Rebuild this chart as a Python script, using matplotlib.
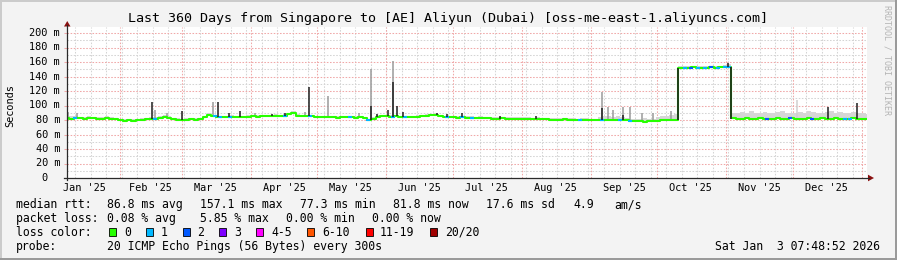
import matplotlib
matplotlib.use("Agg")
import matplotlib.pyplot as plt
import matplotlib.transforms as mtransforms
import numpy as np
import pandas as pd
from matplotlib.lines import Line2D
from matplotlib.patches import Rectangle, Polygon

# ------------------------------------------------------------------ data
end_time = pd.Timestamp("2026-01-03 07:48:52")
start_time = end_time - pd.Timedelta(days=360)
sample_days = list(range(0, 361, 2))          # days since start, 2-day samples

median_ms = [
    82.5, 82, 83, 82.5, 82, 83, 82.5, 82, 81.5, 82.5, 82, 81,
    79.5, 79, 79.5, 79, 80,
    80.5, 81, 81.5, 82,
    83, 84.5, 83,
    81, 80.5, 80, 80.5, 81, 80.5, 81,
    84, 87, 85,
    84, 83.5, 84, 84.5, 84, 83.5, 84, 84.5, 85, 84.5,
    85, 85.5, 85, 86, 85.5, 86, 88,
    90, 86, 85.5, 85, 85.5,
    84, 83.5, 83.5, 84, 83.5, 83, 83.5, 84, 83.5, 83, 83.5, 82.5,
    80, 82, 84.5,
    85, 85, 84.5, 85, 84,
    83.5, 84, 84, 84.5, 85, 86, 86.5, 87, 85, 84, 83.5,
    83.5, 83, 84, 83, 83, 82.5, 83, 82.5, 82.5,
    82, 82, 82.5, 82, 82, 81.5, 82, 81.5, 81.5, 81, 81.5, 81, 81,
    80.5, 80.5, 80.5, 81, 80.5, 80.5, 80, 80.5, 80.5, 80, 80,
    80, 79.5, 80, 79.5, 80, 79.5, 80, 79,
    78, 78, 77.5, 78, 78.5, 79, 79.5, 79.5, 80, 80.5,
    152, 151.5, 152, 152.5, 152, 151.5, 152, 152.5, 152, 152.5, 153, 153,
    82.5, 82, 82, 82.5, 82, 82, 82.5, 82, 82, 82, 82.5, 82, 82, 82.5, 82, 82,
    82, 82.5, 82, 82, 82.5, 82, 82, 82.5, 82, 82, 82, 82.5, 82, 82, 82,
]

smoke_top_ms = [
    84, 85, 85, 84, 84, 85, 84, 84, 83.5, 85, 84, 83,
    81, 81, 81, 81, 82,
    82.5, 83, 83.5, 84,
    86, 87, 85,
    83, 82.5, 82, 82.5, 83, 82.5, 83,
    86, 89, 87,
    86, 85.5, 86, 86.5, 86, 85.5, 86, 86.5, 87, 86.5,
    87, 87.5, 87, 88, 87.5, 88, 90,
    92, 88, 87.5, 87, 87.5,
    86, 85.5, 85.5, 86, 85.5, 85, 85.5, 86, 85.5, 85, 85.5, 84.5,
    82, 84, 86.5,
    87, 87, 86.5, 87, 86,
    85.5, 86, 86, 86.5, 87, 88, 88.5, 89, 87, 86, 85.5,
    85.5, 85, 86, 85, 85, 84.5, 85, 84.5, 84.5,
    84, 84, 84.5, 84, 84, 83.5, 84, 83.5, 83.5, 83, 83.5, 83, 83,
    82.5, 82.5, 82.5, 83, 82.5, 82.5, 82, 82.5, 82.5, 82, 82,
    84, 86, 85, 84, 86, 84, 83, 82,
    82, 81, 83, 81, 82, 84, 85, 86, 87, 88,
    154, 154, 154.5, 155, 154, 154, 154.5, 155, 154.5, 155, 156, 157,
    90, 89, 91, 90, 92, 89, 90, 91, 90, 89, 91, 92, 90, 89, 90, 91,
    90, 92, 91, 89, 90, 91, 92, 90, 91, 90, 89, 91, 90, 89, 88,
]

# days with packet loss (colour code = number of lost pings bucket)
loss_days = [3.6, 39.6, 66.6, 68.9, 73.4, 98.1, 109.4, 127.4, 135.5, 146.7,
             152.1, 171, 177.8, 182.3, 230.9, 240.8, 248.9, 253.4,
             278, 281, 284, 287, 290, 293, 296, 298,
             315, 325.4, 335.3, 350, 352.4]
loss_codes = [1, 1, 1, 1, 1, 1, 1, 1, 1, 1,
              1, 1, 1, 1, 1, 1, 1, 1,
              1, 2, 1, 1, 2, 1, 1, 1,
              2, 2, 2, 1, 1]

# smoke spikes: (day, top in ms, shade)
spike_days = [0.6, 4.4, 38.1, 39.6, 44.9, 51.6, 65.8, 68.1, 73.1, 77.9,
              84.6, 92.1, 98.1, 107.1, 108.9, 117.6, 131.5, 136.8, 136.8, 139.4,
              144.6, 146.9, 146.9, 148.4, 151.4, 166.4, 170.9, 177.8, 194.9, 211,
              240.6, 240.6, 243.5, 245.7, 250.2, 250.2, 253.4, 258.6, 263.7, 272,
              297.3, 328.4, 342.6, 355.4]
spike_top_ms = [91, 89, 105, 94, 89, 93, 105, 105, 89, 93,
                89, 88, 89, 91, 125, 113, 90, 150, 100, 88,
                94, 162, 133, 100, 91, 89, 88, 89, 86, 86,
                119, 96, 98, 94, 98, 87, 98, 89, 89, 93,
                158, 107, 98, 103]
spike_shade = ["grey", "grey", "dark", "grey", "grey", "dark", "grey", "dark", "dark", "dark",
               "grey", "dark", "dark", "grey", "dark", "grey", "grey", "grey", "dark", "dark",
               "dark", "grey", "dark", "dark", "dark", "dark", "dark", "dark", "dark", "dark",
               "grey", "dark", "grey", "grey", "grey", "dark", "grey", "grey", "grey", "grey",
               "dark", "light", "dark", "dark"]

# level changes (dark smoke columns)
step_days = [275, 299]
step_low_ms = [80.5, 82]
step_high_ms = [152, 153]

y_ticks = [0, 20, 40, 60, 80, 100, 120, 140, 160, 180, 200]
y_tick_labels = ["0", "20 m", "40 m", "60 m", "80 m", "100 m", "120 m",
                 "140 m", "160 m", "180 m", "200 m"]
month_labels = ["Jan '25", "Feb '25", "Mar '25", "Apr '25", "May '25", "Jun '25",
                "Jul '25", "Aug '25", "Sep '25", "Oct '25", "Nov '25", "Dec '25"]
month_label_dates = ["2025-01-16", "2025-02-15", "2025-03-16", "2025-04-16",
                     "2025-05-16", "2025-06-16", "2025-07-16", "2025-08-16",
                     "2025-09-16", "2025-10-16", "2025-11-16", "2025-12-16"]

loss_legend = ["0", "1", "2", "3", "4-5", "6-10", "11-19", "20/20"]
loss_colors = ["#26ff00", "#00b8ff", "#0059ff", "#7e00ff", "#ff00ff",
               "#ff5500", "#ff0000", "#a00000"]

title = "Last 360 Days from Singapore to [AE] Aliyun (Dubai) [oss-me-east-1.aliyuncs.com]"
median_line = ["median rtt:", "86.8 ms avg", "157.1 ms max", "77.3 ms min",
               "81.8 ms now", "17.6 ms sd", "4.9", "am/s"]
loss_line = ["packet loss:", "0.08 % avg", "5.85 % max", "0.00 % min", "0.00 % now"]
probe_text = "20 ICMP Echo Pings (56 Bytes) every 300s"
stamp_text = "Sat Jan  3 07:48:52 2026"

# ------------------------------------------------------------------ layout
W, H, DPI = 897, 260, 100
MONO = "DejaVu Sans Mono"
L, R, T, B = 67, 867, 27, 178      # canvas in pixels
Y200 = 33                          # pixel row of the 200 m gridline


def fx(x):
    return x / W


def fy(y):
    return 1 - y / H


fig = plt.figure(figsize=(W / DPI, H / DPI), dpi=DPI, facecolor="#f3f3f3")
ax = fig.add_axes([fx(L), fy(B), (R - L) / W, (B - T) / H])
ax.set_facecolor("white")
ax.set_xlim(start_time, end_time)
ax.set_ylim(0, 200 * (B - T) / (B - Y200))
for s in ax.spines.values():
    s.set_visible(False)

# grid
grid_minor = "#d4d4d4"
grid_major = "#f0a8a8"
dash = (0, (1.5, 1.5))
for yv in range(10, 200, 20):
    ax.axhline(yv, color=grid_minor, lw=0.75, ls=dash, zorder=0.5)
for d in pd.date_range(start_time.normalize(), end_time, freq="W-SUN"):
    ax.axvline(d, color=grid_minor, lw=0.75, ls=dash, zorder=0.5)
for yv in y_ticks[1:]:
    ax.axhline(yv, color=grid_major, lw=0.75, ls=dash, zorder=0.6)
for d in pd.date_range(start_time.normalize(), end_time, freq="MS"):
    ax.axvline(d, color=grid_major, lw=0.75, ls=dash, zorder=0.6)

# data
dates = start_time + pd.to_timedelta(sample_days, unit="D")
ax.fill_between(dates, median_ms, smoke_top_ms, step="mid",
                color="#d6d6d6", lw=0, zorder=1)

shade_col = {"light": "#cfcfcf", "grey": "#9a9a9a", "dark": "#1e1e1e"}
for d, top, sh in zip(spike_days, spike_top_ms, spike_shade):
    base = median_ms[int(round(d / 2))]
    t = start_time + pd.Timedelta(days=d)
    ax.vlines(t, base, top, colors=shade_col[sh], lw=1.1,
              zorder=1.5 if sh != "dark" else 2.6)

ax.plot(dates, median_ms, drawstyle="steps-mid", color=loss_colors[0],
        lw=1.5, zorder=2, solid_capstyle="butt")

for d, c in zip(loss_days, loss_codes):
    val = median_ms[int(round(d / 2))]
    t0 = start_time + pd.Timedelta(days=d - 0.9)
    t1 = start_time + pd.Timedelta(days=d + 0.9)
    ax.plot([t0, t1], [val, val], color=loss_colors[c], lw=1.5, zorder=2.5,
            solid_capstyle="butt")

for d, lo, hi in zip(step_days, step_low_ms, step_high_ms):
    t = start_time + pd.Timedelta(days=d)
    ax.vlines(t, lo, hi, colors="#1e1e1e", lw=1.2, zorder=2.7)

# ticks
ax.set_xticks(pd.to_datetime(month_label_dates))
ax.set_xticklabels(month_labels, fontsize=7.4, family=MONO)
ax.tick_params(axis="x", length=0, pad=3.5)
ax.set_yticks(y_ticks)
ax.set_yticklabels([])
ax.tick_params(axis="y", length=2, color=grid_major, width=0.75)

ytrans = mtransforms.blended_transform_factory(fig.transFigure, ax.transData)
for v, lab in zip(y_ticks, y_tick_labels):
    xr = 60 if lab.endswith("m") else 60 - 12.4
    ax.text(fx(xr), v, lab, transform=ytrans, ha="right", va="center",
            fontsize=7.4, family=MONO, color="black")

# axis lines and arrows
axis_col = "#2a2a2a"
arrow_col = "#8b1010"
fig.add_artist(Line2D([fx(L), fx(L)], [fy(B + 2), fy(25)], color=axis_col, lw=0.9))
fig.add_artist(Line2D([fx(L - 3), fx(869)], [fy(B), fy(B)], color=axis_col, lw=0.9))
fig.add_artist(Polygon([[fx(L - 3), fy(26.5)], [fx(L + 3.5), fy(26.5)], [fx(L + 0.25), fy(21)]],
                       closed=True, color=arrow_col, lw=0))
fig.add_artist(Polygon([[fx(868), fy(B - 3.3)], [fx(868), fy(B + 3.3)], [fx(874), fy(B)]],
                       closed=True, color=arrow_col, lw=0))

# frame (3d border)
fig.add_artist(Rectangle((0, fy(2)), 1, 2 / H, color="#cbcbcb", lw=0))
fig.add_artist(Rectangle((0, 0), 2 / W, 1, color="#cbcbcb", lw=0))
fig.add_artist(Rectangle((0, 0), 1, 2 / H, color="#9a9a9a", lw=0))
fig.add_artist(Rectangle((1 - 2 / W, 0), 2 / W, 1, color="#9a9a9a", lw=0))

# texts
fig.text(fx(448), fy(18.5), title, ha="center", va="center", fontsize=9.6, family=MONO)
fig.text(fx(10.5), fy(105.5), "Seconds", ha="center", va="center", rotation=90,
         fontsize=7.4, family=MONO)
fig.text(fx(887), fy(60), "RRDTOOL / TOBI OETIKER", ha="center", va="center",
         rotation=270, fontsize=6.0, family=MONO, color="#b4b4b4")

LEG_FS = 8.3
row_y = [204.5, 218.5, 232.3, 246.3]
med_x = [16, 107, 200, 300, 393, 486, 573, 614]
for x, s in zip(med_x, median_line):
    fig.text(fx(x), fy(row_y[0]), s, ha="left", va="center", fontsize=LEG_FS, family=MONO)
loss_x = [16, 107, 200, 286, 372]
for x, s in zip(loss_x, loss_line):
    fig.text(fx(x), fy(row_y[1]), s, ha="left", va="center", fontsize=LEG_FS, family=MONO)
fig.text(fx(16), fy(row_y[2]), "loss color:", ha="left", va="center",
         fontsize=LEG_FS, family=MONO)
box_x = [109, 146, 183, 219, 256, 307, 366, 430]
lab_x = [124, 161, 197, 234, 271, 322, 380, 445]
for bx, lx, lab, col in zip(box_x, lab_x, loss_legend, loss_colors):
    fig.add_artist(Rectangle((fx(bx), fy(row_y[2] + 4)), 7 / W, 8 / H,
                             facecolor=col, edgecolor="black", lw=0.6))
    fig.text(fx(lx), fy(row_y[2]), lab, ha="left", va="center", fontsize=LEG_FS, family=MONO)
fig.text(fx(16), fy(row_y[3]), "probe:", ha="left", va="center", fontsize=LEG_FS, family=MONO)
fig.text(fx(107), fy(row_y[3]), probe_text, ha="left", va="center",
         fontsize=LEG_FS, family=MONO)
fig.text(fx(880), fy(row_y[3]), stamp_text, ha="right", va="center",
         fontsize=LEG_FS, family=MONO)

fig.savefig("out.png", dpi=DPI, facecolor=fig.get_facecolor())
